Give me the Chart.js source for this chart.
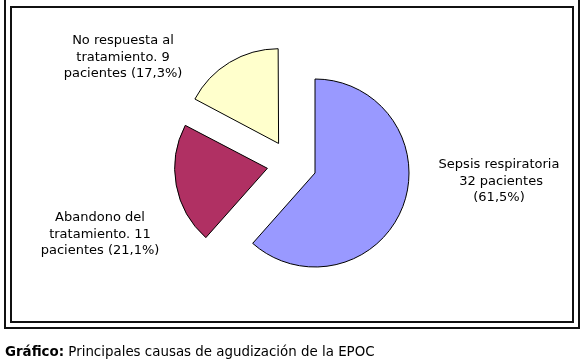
<!DOCTYPE html>
<html>
<head>
<meta charset="utf-8">
<script src="https://cdn.jsdelivr.net/npm/chart.js@4"></script>
<style>
  html, body { margin: 0; padding: 0; background: #fff; width: 586px; height: 364px; overflow: hidden; }
  body { position: relative; font-family: "DejaVu Sans", Verdana, sans-serif; color: #000; }
  #outer { position: absolute; left: 4px; top: -10px; width: 572px; height: 335px; border: 2px solid #111; }
  #inner { position: absolute; left: 10px; top: 6px; width: 560px; height: 313px; border: 2px solid #111; }
  canvas { position: absolute; left: 0; top: 0; }
  .lbl { position: absolute; font-size: 13px; line-height: 16.5px; text-align: center; white-space: pre; transform: translateX(-50%); }
  #cap { position: absolute; left: 5px; top: 344px; font-size: 13.4px; line-height: 16px; white-space: nowrap; }
</style>
</head>
<body>
<div id="outer"></div>
<div id="inner"></div>
<canvas id="c1" width="586" height="364"></canvas>
<canvas id="c2" width="586" height="364"></canvas>
<div id="cap"><b>Gráfico:</b> Principales causas de agudización de la EPOC</div>
<script>
const categories = ["Sepsis respiratoria", "Abandono del tratamiento", "No respuesta al tratamiento"];
const patients = [32, 11, 9];
const percents = ["61,5%", "21,1%", "17,3%"];
const labelLines = [
  ["Sepsis respiratoria", " 32 pacientes", "(61,5%)"],
  ["Abandono del", "tratamiento. 11", "pacientes (21,1%)"],
  ["No respuesta al", "tratamiento. 9", "pacientes (17,3%)"]
];
const sliceColors = ["#9999FF", "#B03063", "#FFFFCC"];
const labelCenters = [[499, 156], [100, 209], [123, 32]];

// Chart.js enlarges an exploded slice wider than 180°, so the large slice
// is drawn by its own pie (same data, other slices hidden) centred where it sits.
function makePie(id, showLarge, offset, radius, padding) {
  return new Chart(document.getElementById(id), {
    type: 'pie',
    data: {
      labels: categories,
      datasets: [{
        data: patients,
        backgroundColor: sliceColors.map((c, i) => ((i === 0) === showLarge ? c : 'rgba(0,0,0,0)')),
        borderColor: sliceColors.map((c, i) => ((i === 0) === showLarge ? '#000' : 'rgba(0,0,0,0)')),
        borderWidth: 1,
        offset: offset
      }]
    },
    options: {
      responsive: false,
      animation: false,
      radius: radius,
      layout: { padding: padding },
      plugins: { legend: { display: false }, tooltip: { enabled: false } }
    }
  });
}

makePie('c1', true, 0, 94, { left: 44, right: 0, top: 0, bottom: 18 });
makePie('c2', false, 96, 92, { left: 0, right: 4, top: 0, bottom: 36 });

labelLines.forEach((lines, i) => {
  const d = document.createElement('div');
  d.className = 'lbl';
  d.textContent = lines.join('\n');
  d.style.left = labelCenters[i][0] + 'px';
  d.style.top = labelCenters[i][1] + 'px';
  document.body.appendChild(d);
});
</script>
</body>
</html>
